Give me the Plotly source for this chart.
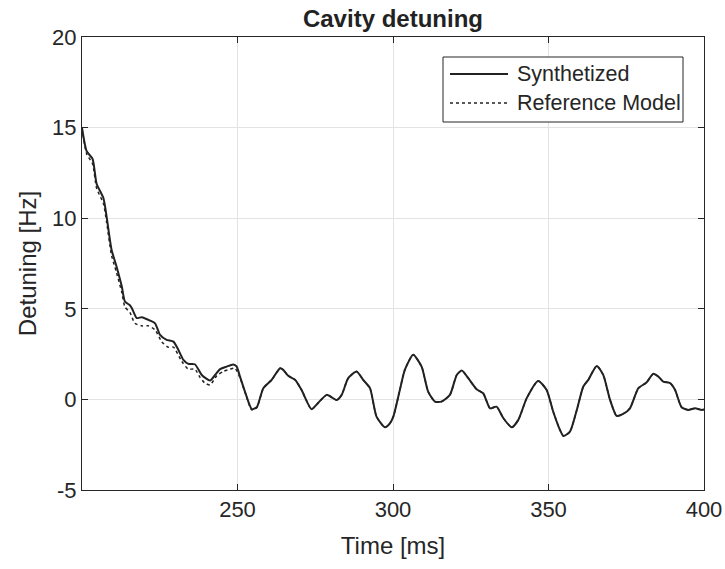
import plotly.graph_objects as go

# Synthetized detuning
time_syn = [200.0, 201.5, 203.4, 204.7, 206.9, 207.9, 209.5, 211.1, 212.8, 213.8,
            215.4, 216.0, 217.6, 219.2, 221.9, 223.5, 225.1, 227.2, 229.4, 231.0,
            232.6, 234.2, 236.3, 238.5, 241.2, 242.8, 244.4, 246.5, 248.6, 249.7,
            250.8, 252.4, 254.6, 256.2, 258.3, 261.0, 263.7, 264.7, 266.3, 268.5,
            270.6, 273.8, 276.0, 278.7, 281.9, 283.5, 285.6, 288.3, 290.4, 292.6,
            294.7, 297.4, 299.0, 300.1, 302.2, 303.8, 306.5, 309.2, 311.3, 313.5,
            315.6, 318.3, 320.5, 322.1, 324.2, 326.9, 329.0, 331.2, 333.3, 335.5,
            338.2, 340.3, 343.0, 346.7, 349.4, 351.5, 353.7, 354.8, 356.9, 359.1,
            361.2, 362.8, 365.5, 367.6, 369.8, 371.9, 374.0, 376.2, 378.9, 381.5,
            383.7, 385.3, 386.9, 389.1, 390.7, 392.8, 395.0, 397.1, 399.3, 400.0]
detuning_syn = [15.0, 13.7, 13.27, 11.9, 11.1, 10.1, 8.26, 7.34, 6.23, 5.4,
                5.2, 5.05, 4.49, 4.54, 4.35, 4.2, 3.56, 3.29, 3.19, 2.73,
                2.18, 1.96, 1.94, 1.35, 1.04, 1.35, 1.67, 1.81, 1.93, 1.82,
                1.26, 0.43, -0.54, -0.43, 0.62, 1.08, 1.72, 1.63, 1.3, 1.08,
                0.52, -0.54, -0.18, 0.25, -0.03, 0.25, 1.17, 1.54, 1.08, 0.62,
                -0.95, -1.54, -1.32, -0.95, 0.52, 1.63, 2.46, 1.81, 0.43, -0.12,
                -0.12, 0.25, 1.35, 1.59, 1.17, 0.56, 0.34, -0.49, -0.4, -1.04,
                -1.54, -1.13, 0.07, 1.02, 0.52, -0.67, -1.69, -2.02, -1.78, -0.58,
                0.71, 1.08, 1.85, 1.35, -0.03, -0.91, -0.8, -0.49, 0.62, 0.93,
                1.41, 1.26, 0.98, 0.9, 0.52, -0.43, -0.58, -0.49, -0.58, -0.55]

# Reference model detuning
time_ref = [200.0, 201.5, 203.4, 204.7, 206.9, 207.9, 209.5, 211.1, 212.8, 213.8,
            215.4, 217.0, 219.2, 221.3, 223.5, 225.6, 227.7, 229.4, 232.1, 234.2,
            236.3, 237.9, 239.5, 241.2, 243.3, 245.4, 247.6, 249.2, 250.8, 252.4,
            254.6, 256.2, 258.3, 261.0, 263.7, 264.7, 266.3, 268.5,
            270.6, 273.8, 276.0, 278.7, 281.9, 283.5, 285.6, 288.3, 290.4, 292.6,
            294.7, 297.4, 299.0, 300.1, 302.2, 303.8, 306.5, 309.2, 311.3, 313.5,
            315.6, 318.3, 320.5, 322.1, 324.2, 326.9, 329.0, 331.2, 333.3, 335.5,
            338.2, 340.3, 343.0, 346.7, 349.4, 351.5, 353.7, 354.8, 356.9, 359.1,
            361.2, 362.8, 365.5, 367.6, 369.8, 371.9, 374.0, 376.2, 378.9, 381.5,
            383.7, 385.3, 386.9, 389.1, 390.7, 392.8, 395.0, 397.1, 399.3, 400.0]
detuning_ref = [14.95, 13.55, 13.0, 11.65, 10.8, 9.8, 7.95, 7.0, 5.9, 5.1,
                4.8, 4.2, 4.06, 4.06, 3.84, 3.19, 2.88, 2.88, 2.09, 1.67,
                1.67, 1.23, 0.9, 0.8, 1.3, 1.54, 1.67, 1.72, 1.2, 0.4,
                -0.58, -0.45, 0.62, 1.08, 1.72, 1.63, 1.3, 1.08,
                0.52, -0.54, -0.18, 0.25, -0.03, 0.25, 1.17, 1.54, 1.08, 0.62,
                -0.95, -1.54, -1.32, -0.95, 0.52, 1.63, 2.46, 1.81, 0.43, -0.12,
                -0.12, 0.25, 1.35, 1.59, 1.17, 0.56, 0.34, -0.49, -0.4, -1.04,
                -1.54, -1.13, 0.07, 1.02, 0.52, -0.67, -1.69, -2.02, -1.78, -0.58,
                0.71, 1.08, 1.85, 1.35, -0.03, -0.91, -0.8, -0.49, 0.62, 0.93,
                1.41, 1.26, 0.98, 0.9, 0.52, -0.43, -0.58, -0.49, -0.58, -0.55]

x_ticks = [250, 300, 350, 400]
y_ticks = [-5, 0, 5, 10, 15, 20]
y_ticktext = ["-5", "0", "5", "10", "15", "20"]
series_names = ["Synthetized", "Reference Model"]

FONT = "Liberation Sans, Arial, Helvetica, sans-serif"
AX = "#262626"
LINE = "#222222"
GRID = "#e3e3e3"

fig = go.Figure()
fig.add_trace(go.Scatter(x=time_syn, y=detuning_syn, mode="lines", name=series_names[0],
                         line=dict(color=LINE, width=2, shape="spline", smoothing=0.6)))
fig.add_trace(go.Scatter(x=time_ref, y=detuning_ref, mode="lines", name=series_names[1],
                         line=dict(color=LINE, width=1.5, dash="dot", shape="spline", smoothing=0.6)))

W, H = 725, 569
L, R, T, B = 82, 21, 37, 79
pw, ph = W - L - R, H - T - B

def px(xp):
    return (xp - L) / pw

def py(yp):
    return (H - B - yp) / ph

# Legend box drawn in paper coordinates (MATLAB style)
shapes = [
    dict(type="rect", xref="paper", yref="paper", x0=px(443), x1=px(683),
         y0=py(122), y1=py(57), line=dict(color=AX, width=1), fillcolor="white", layer="above"),
    dict(type="line", xref="paper", yref="paper", x0=px(450), x1=px(508),
         y0=py(74), y1=py(74), line=dict(color=LINE, width=2), layer="above"),
    dict(type="line", xref="paper", yref="paper", x0=px(450), x1=px(508),
         y0=py(103), y1=py(103), line=dict(color=LINE, width=1.5, dash="dot"), layer="above"),
]
annotations = [
    dict(text=series_names[0], xref="paper", yref="paper", x=px(515), y=py(74),
         xanchor="left", yanchor="middle", showarrow=False, font=dict(size=21.5, color=AX)),
    dict(text=series_names[1], xref="paper", yref="paper", x=px(515), y=py(103),
         xanchor="left", yanchor="middle", showarrow=False, font=dict(size=21.5, color=AX)),
]

fig.update_layout(
    width=W, height=H,
    margin=dict(l=L, r=R, t=T, b=B),
    plot_bgcolor="white", paper_bgcolor="white",
    font=dict(family=FONT, color=AX, size=22),
    title=dict(text="<b>Cavity detuning</b>", x=0.542, xanchor="center",
               y=0.968, yanchor="middle", font=dict(size=24, color=LINE)),
    showlegend=False,
    shapes=shapes,
    annotations=annotations,
)
fig.update_xaxes(range=[200, 400], tickvals=x_ticks, ticks="inside", ticklen=6,
                 tickcolor=AX, showline=True, linecolor=AX, linewidth=1, mirror="ticks",
                 showgrid=True, gridcolor=GRID, gridwidth=1, zeroline=False, automargin=False,
                 tickfont=dict(size=22, color=AX),
                 title=dict(text="Time [ms]", font=dict(size=24, color=AX), standoff=15))
fig.update_yaxes(range=[-5, 20], tickvals=y_ticks, ticktext=y_ticktext, ticks="inside",
                 ticklen=6, tickcolor=AX, showline=True, linecolor=AX, linewidth=1,
                 mirror="ticks", showgrid=True, gridcolor=GRID, gridwidth=1, zeroline=False,
                 automargin=False,
                 tickfont=dict(size=22, color=AX),
                 title=dict(text="Detuning [Hz]", font=dict(size=24, color=AX), standoff=8))

fig.write_html("out.html")
